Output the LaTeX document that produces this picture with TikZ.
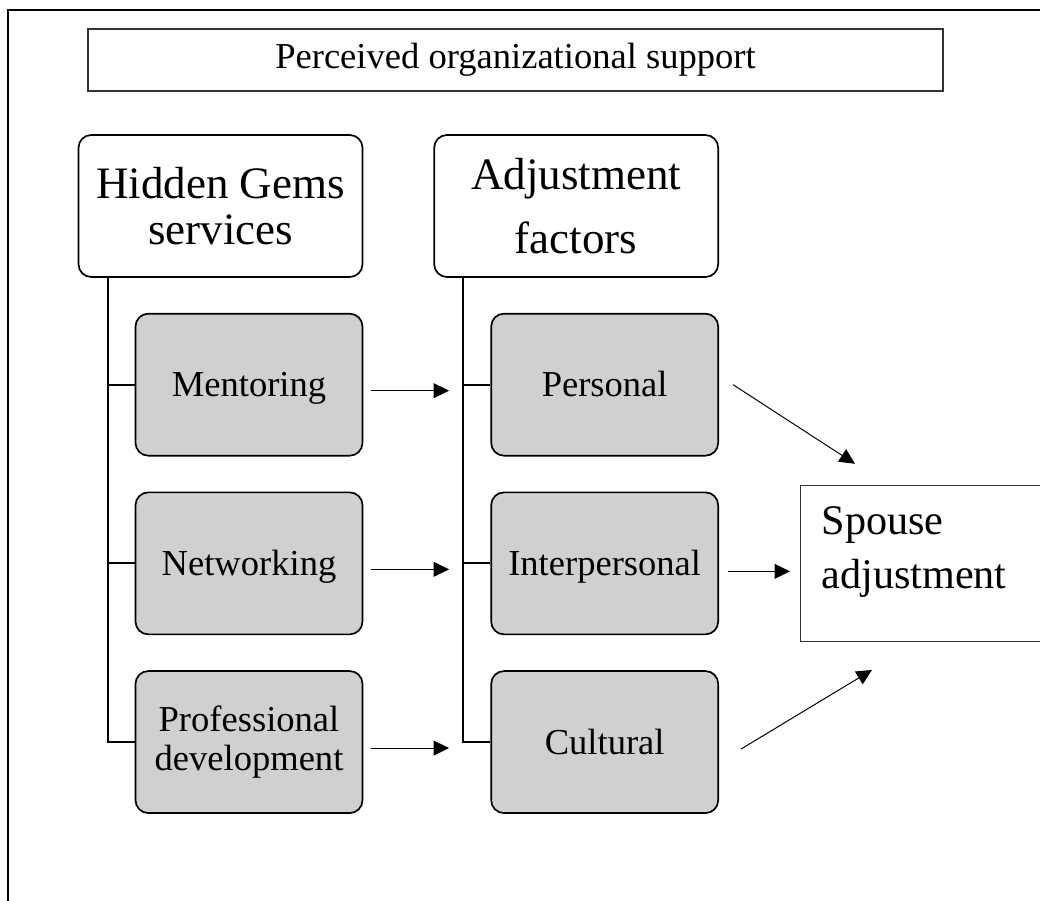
\documentclass[tikz,border=0pt]{standalone}
\usepackage{fontspec}
\setmainfont{Liberation Serif}
\usetikzlibrary{positioning,arrows.meta}
\definecolor{boxgray}{RGB}{208,208,208}

\begin{document}
\begin{tikzpicture}[
        node distance=0.875cm and 1.75cm,
        headbox/.style={rectangle, rounded corners=0.32cm, draw, line width=1.2pt, fill=white,
            minimum width=7.1cm, minimum height=3.55cm, inner sep=0pt,
            align=center, font=\fontsize{32}{33}\selectfont},
        itembox/.style={rectangle, rounded corners=0.32cm, draw, line width=1.2pt, fill=boxgray,
            minimum width=5.675cm, minimum height=3.55cm, inner sep=0pt,
            text height=22pt, text depth=4.8pt,
            align=center, font=\fontsize{26}{28}\selectfont},
        plainbox/.style={rectangle, draw=black!80, line width=0.9pt},
        spine/.style={line width=1.4pt},
        flow/.style={-{Triangle[length=11pt,width=10.5pt]}, line width=0.7pt}
    ]
        \useasboundingbox (0,0) rectangle (26,-22.525);
        % outer frame, only top and left edges show
        \draw[line width=1.5pt] (26.2,-0.26) -- (0.2,-0.26) -- (0.2,-22.7);

        \node[plainbox, minimum width=21.375cm, minimum height=1.55cm,
            font=\fontsize{26}{28}\selectfont] (support) at (12.8875,-1.5) {Perceived organizational support};

        % the two columns
        \node[headbox] (services) at (5.5125,-5.15) {Hidden Gems\\services};
        \node[headbox, right=of services] (factors) {Adjustment\\[13pt]factors};

        \node[itembox, below=of services.south east, anchor=north east] (mentoring) {Mentoring};
        \node[itembox, below=of mentoring] (networking) {Networking};
        \node[itembox, below=of networking, text height=, text depth=] (profdev) {Professional\\development};

        \node[itembox, below=of factors.south east, anchor=north east] (personal) {Personal};
        \node[itembox, below=of personal] (interpersonal) {Interpersonal};
        \node[itembox, below=of interpersonal] (cultural) {Cultural};

        \node[plainbox, line width=0.8pt, inner xsep=0.525cm, inner ysep=0pt,
            text width=5.075cm, text height=1.225cm, text depth=2.675cm,
            align=left, font=\fontsize{30}{38.4}\selectfont,
            right=2.025cm of interpersonal] (spouse) {Spouse\\adjustment};

        % brackets hanging from the column heads
        \coordinate (lspine) at ([xshift=0.75cm]services.south west);
        \coordinate (rspine) at ([xshift=0.74cm]factors.south west);
        \draw[spine] (lspine) |- (profdev.west);
        \draw[spine] (rspine) |- (cultural.west);
        \foreach \n in {mentoring,networking}
            \draw[spine] (\n.west) -- (\n.west -| lspine);
        \foreach \n in {personal,interpersonal}
            \draw[spine] (\n.west) -- (\n.west -| rspine);

        \foreach \a/\b in {mentoring/personal, networking/interpersonal, profdev/cultural}
            \draw[flow] ([shift={(0.2,-0.15)}]\a.east) -- ([shift={(-1.03,-0.15)}]\b.west);

        \draw[flow] ([xshift=0.35cm]personal.east) -- ([shift={(1.375,0.525)}]spouse.north west);
        \draw[flow] ([shift={(0.225,-0.2)}]interpersonal.east) -- ([shift={(-0.25,-0.2)}]spouse.west);
        \draw[flow] ([shift={(0.55,-0.175)}]cultural.east) -- ([shift={(1.8,-0.7)}]spouse.south west);
    \end{tikzpicture}
\end{document}
